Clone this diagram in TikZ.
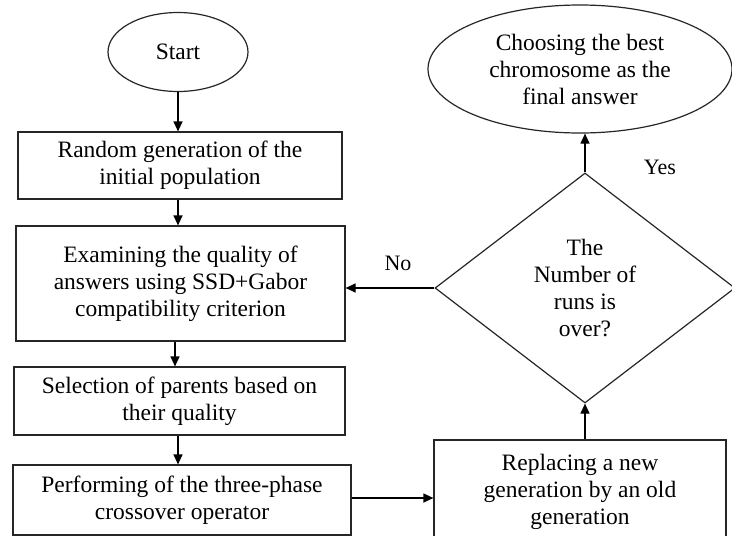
\documentclass[tikz,border=0pt]{standalone}
\usepackage{fontspec}
\setmainfont{Liberation Serif}
\usepackage{tikz}
\usetikzlibrary{arrows.meta, positioning, shapes.geometric}

\begin{document}
\begin{tikzpicture}[x=1pt, y=1pt,
  stepbox/.style={rectangle, draw=black!85, line width=1.2pt, fill=white, inner sep=0pt,
    align=center, font=\fontsize{23.5}{27}\selectfont},
  termell/.style={ellipse, draw=black!85, line width=1.2pt, fill=white, inner sep=0pt,
    align=center, font=\fontsize{23.5}{27}\selectfont},
  decbox/.style={diamond, draw=black!85, line width=1.2pt, fill=white, inner sep=0pt,
    align=center, font=\fontsize{23.5}{27}\selectfont},
  lbl/.style={font=\fontsize{22}{25}\selectfont},
  arr/.style={-{Triangle[length=10pt, width=9pt]}, line width=1.2pt}
]
  \useasboundingbox (0,0) rectangle (732,-536);

  \node[termell, minimum width=140, minimum height=79] (start) at (178,-52) {Start};
  \node[stepbox, minimum width=324, minimum height=67] (rand) at (180,-165.5)
    {Random generation of the\\initial population};
  \node[stepbox, minimum width=329, minimum height=115] (exam) at (180.5,-283.5)
    {Examining the quality of\\answers using SSD+Gabor\\compatibility criterion};
  \node[stepbox, minimum width=331, minimum height=68] (sel) at (179.5,-401)
    {Selection of parents based on\\their quality};
  \node[stepbox, minimum width=338, minimum height=70] (cross) at (182,-500)
    {Performing of the three-phase\\crossover operator};
  \node[stepbox, minimum width=292, minimum height=104] (repl) at (580,-492)
    {Replacing a new\\generation by an old\\generation};
  \node[decbox, minimum width=300, minimum height=230] (runs) at (585,-288)
    {The\\Number of\\runs is\\over?};
  \node[termell, minimum width=304, minimum height=128] (best) at (580,-69)
    {Choosing the best\\chromosome as the\\final answer};

  \node[lbl] (no)  at (398,-263) {No};
  \node[lbl] (yes) at (660,-167) {Yes};

  \draw[arr] (start.south) -- (start.south |- rand.north);
  \draw[arr] (rand.south -| start.south) -- (start.south |- exam.north);
  \draw[arr] (exam.south -| 175,0) -- (sel.north -| 175,0);
  \draw[arr] (sel.south -| start.south) -- (start.south |- cross.north);
  \draw[arr] (cross.east |- 0,-498) -- (repl.west |- 0,-498);
  \draw[arr] (runs.south |- repl.north) -- (runs.south);
  \draw[arr] (runs.north) -- (runs.north |- best.south);
  \draw[arr] (runs.west) -- (runs.west -| exam.east);
\end{tikzpicture}
\end{document}
